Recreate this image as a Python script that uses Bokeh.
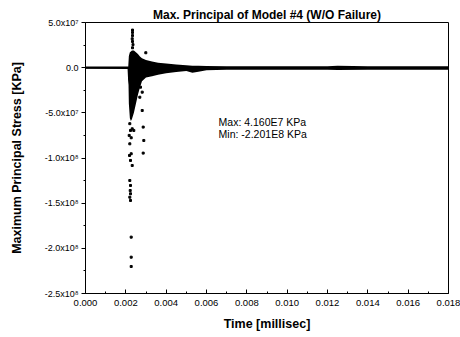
from bokeh.plotting import figure
from bokeh.models import FixedTicker, NumeralTickFormatter, Label
from bokeh.embed import file_html
from bokeh.resources import INLINE

# ---- data ----
# envelope of the densely plotted response (KPa)
env_t = [0.0, 0.00212, 0.00215, 0.00220, 0.00225, 0.00230, 0.00240, 0.00250, 0.00260,
         0.00270, 0.00280, 0.00300, 0.00330, 0.00360, 0.00400, 0.00450, 0.00500,
         0.00530, 0.00560, 0.00600, 0.00700, 0.01200, 0.01250, 0.01400, 0.01800]
env_hi = [1.2e6, 1.2e6, 1.3e7, 1.7e7, 1.8e7, 1.9e7, 1.9e7, 1.7e7, 1.5e7,
          1.25e7, 1.05e7, 8.5e6, 6.8e6, 5.5e6, 4.5e6, 3.6e6, 2.8e6,
          2.2e6, 2.0e6, 1.8e6, 1.7e6, 1.7e6, 2.0e6, 1.7e6, 1.5e6]
env_lo = [-1.2e6, -1.5e6, -4.0e7, -5.6e7, -5.9e7, -5.7e7, -5.0e7, -4.0e7, -3.0e7,
          -2.2e7, -1.5e7, -1.1e7, -9.5e6, -7.8e6, -6.2e6, -4.7e6, -3.6e6,
          -5.5e6, -4.5e6, -2.8e6, -2.2e6, -2.2e6, -2.5e6, -2.2e6, -2.2e6]

# isolated sample points (KPa)
pts_t = [0.002331, 0.002331, 0.002331, 0.002316, 0.002331, 0.002355, 0.002331,
         0.002197, 0.002232, 0.002167, 0.002266, 0.002316, 0.002395, 0.002197,
         0.002266, 0.002182, 0.002232, 0.002316, 0.002197, 0.002232, 0.002217,
         0.002232, 0.002197, 0.002232, 0.002266, 0.002266, 0.002266,
         0.002812, 0.002861, 0.002891, 0.002861, 0.002990, 0.002727, 0.002812, 0.002693]
pts_v = [4.16e7, 3.9e7, 3.55e7, 3.2e7, 2.9e7, 2.55e7, 2.2e7,
         -6.2e7, -6.95e7, -7.5e7, -7.76e7, -6.77e7, -6.95e7, -8.43e7,
         -9.53e7, -9.72e7, -1.027e8, -1.083e8, -1.249e8, -1.304e8, -1.36e8,
         -1.396e8, -1.434e8, -1.47e8, -1.876e8, -2.098e8, -2.201e8,
         -4.74e7, -6.58e7, -8.06e7, -9.46e7, 1.65e7, -2.16e7, -2.71e7, -3.27e7]

x_ticks = [0.000, 0.002, 0.004, 0.006, 0.008, 0.010, 0.012, 0.014, 0.016, 0.018]
y_ticks = [50000000, 0, -50000000, -100000000, -150000000, -200000000, -250000000]
y_tick_labels = ["5.0x10\u2077", "0.0", "-5.0x10\u2077", "-1.0x10\u2078",
                 "-1.5x10\u2078", "-2.0x10\u2078", "-2.5x10\u2078"]

title_text = "Max. Principal of Model #4 (W/O Failure)"
x_label = "Time [millisec]"
y_label = "Maximum Principal Stress [KPa]"
note_lines = ["Max: 4.160E7 KPa", "Min: -2.201E8 KPa"]
note_pos = [(0.00660, -6.0e7), (0.00660, -7.33e7)]

FONT = "Liberation Sans"

p = figure(width=460, height=337, output_backend="svg", toolbar_location=None,
           x_range=(0.0, 0.018), y_range=(-2.5e8, 5.0e7),
           min_border_left=85, min_border_right=12, min_border_top=22, min_border_bottom=44,
           background_fill_color="white", border_fill_color="white")

p.title.text = title_text
p.title.align = "center"
p.title.text_font = FONT
p.title.text_font_size = "12px"
p.title.text_font_style = "bold"
p.title.text_color = "black"
p.title.offset = 0
p.title.standoff = 2

p.outline_line_color = "black"
p.outline_line_width = 1
p.xgrid.visible = False
p.ygrid.visible = False

p.varea(x=env_t, y1=env_lo, y2=env_hi, fill_color="black")
p.line(x=env_t, y=[0.5 * (a + b) for a, b in zip(env_hi, env_lo)], line_color="black", line_width=1.5)
p.scatter(x=pts_t, y=pts_v, marker="square", size=2, color="black")

for (tx, ty), txt in zip(note_pos, note_lines):
    p.add_layout(Label(x=tx, y=ty, text=txt, text_font=FONT, text_font_size="10.5px",
                       text_color="black", text_baseline="middle", text_align="left"))

xa = p.xaxis[0]
xa.ticker = FixedTicker(ticks=x_ticks,
                        minor_ticks=[0.001 + 0.002 * i for i in range(9)])
xa.formatter = NumeralTickFormatter(format="0.000")
xa.axis_label = x_label
xa.axis_label_text_font = FONT
xa.axis_label_text_font_size = "12.5px"
xa.axis_label_text_font_style = "bold"
xa.axis_label_text_color = "black"
xa.axis_label_standoff = 8
xa.major_label_text_font = FONT
xa.major_label_text_font_size = "9.5px"
xa.major_label_text_color = "black"
xa.major_label_standoff = 6
xa.major_tick_in = 4
xa.major_tick_out = 0
xa.minor_tick_in = 2
xa.minor_tick_out = 0
xa.axis_line_color = "black"
xa.major_tick_line_color = "black"
xa.minor_tick_line_color = "black"

ya = p.yaxis[0]
ya.ticker = FixedTicker(ticks=y_ticks,
                        minor_ticks=[25000000 - 50000000 * i for i in range(6)])
ya.major_label_overrides = dict(zip(y_ticks, y_tick_labels))
ya.axis_label = y_label
ya.axis_label_text_font = FONT
ya.axis_label_text_font_size = "12.5px"
ya.axis_label_text_font_style = "bold"
ya.axis_label_text_color = "black"
ya.axis_label_standoff = 18
ya.major_label_text_font = FONT
ya.major_label_text_font_size = "9px"
ya.major_label_text_color = "black"
ya.major_label_standoff = 3
ya.major_tick_in = 0
ya.major_tick_out = 4
ya.minor_tick_in = 0
ya.minor_tick_out = 2
ya.axis_line_color = "black"
ya.major_tick_line_color = "black"
ya.minor_tick_line_color = "black"

open("out.html", "w").write(file_html(p, INLINE))
